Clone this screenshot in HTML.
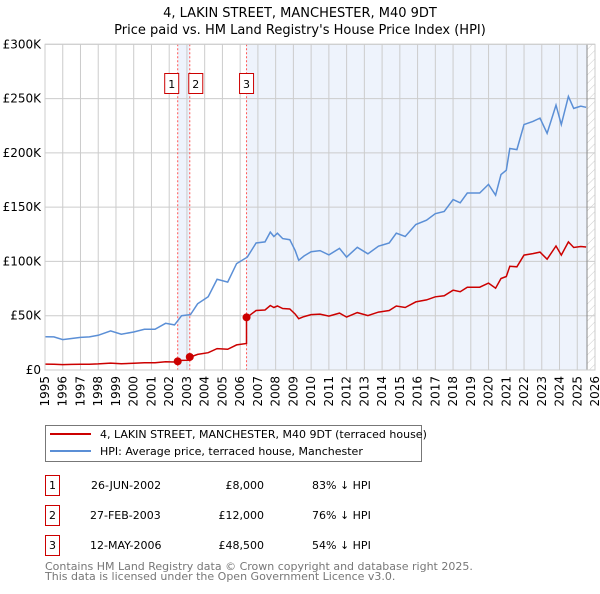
<!DOCTYPE html>
<html><head><meta charset="utf-8"><style>
body{margin:0;background:#fff;font-family:"DejaVu Sans","Liberation Sans",sans-serif;}
svg text{font-family:"DejaVu Sans","Liberation Sans",sans-serif;}
</style></head><body>
<svg id="c" width="600" height="590" xmlns="http://www.w3.org/2000/svg">
<defs><pattern id="hatch" width="6" height="6" patternUnits="userSpaceOnUse" patternTransform="rotate(45)"><line x1="0" y1="0" x2="0" y2="6" stroke="#ccc" stroke-width="1"/></pattern></defs>
<text x="300" y="17" text-anchor="middle" font-size="13">4, LAKIN STREET, MANCHESTER, M40 9DT</text>
<text x="300" y="34" text-anchor="middle" font-size="13">Price paid vs. HM Land Registry's House Price Index (HPI)</text>
<g id="plot"></g>
<g>
<rect x="45.5" y="425.5" width="376" height="36" fill="#fff" stroke="#777"/>
<line x1="50" y1="434" x2="91" y2="434" stroke="#cc0000" stroke-width="2"/>
<text x="100" y="438" font-size="11">4, LAKIN STREET, MANCHESTER, M40 9DT (terraced house)</text>
<line x1="50" y1="451" x2="91" y2="451" stroke="#5b8fd6" stroke-width="2"/>
<text x="100" y="455" font-size="11">HPI: Average price, terraced house, Manchester</text>
</g>
<g font-size="11">
<rect x="45.5" y="475.5" width="14" height="20" fill="none" stroke="#cc0000"/><text x="52.5" y="489" text-anchor="middle">1</text>
<text x="91" y="489">26-JUN-2002</text><text x="264" y="489" text-anchor="end">£8,000</text><text x="312" y="489">83% ↓ HPI</text>
<rect x="45.5" y="505.5" width="14" height="20" fill="none" stroke="#cc0000"/><text x="52.5" y="519" text-anchor="middle">2</text>
<text x="90" y="519">27-FEB-2003</text><text x="264" y="519" text-anchor="end">£12,000</text><text x="312" y="519">76% ↓ HPI</text>
<rect x="45.5" y="535.5" width="14" height="20" fill="none" stroke="#cc0000"/><text x="52.5" y="549" text-anchor="middle">3</text>
<text x="90" y="549">12-MAY-2006</text><text x="264" y="549" text-anchor="end">£48,500</text><text x="312" y="549">54% ↓ HPI</text>
</g>
<text x="45" y="570" font-size="11" fill="#777">Contains HM Land Registry data © Crown copyright and database right 2025.</text>
<text x="45" y="580" font-size="11" fill="#777">This data is licensed under the Open Government Licence v3.0.</text>
</svg>
<script>
const hpiYears=[1995,1995.5,1996,1996.5,1997,1997.5,1998,1998.7,1999.3,2000,2000.6,2001.2,2001.8,2002.3,2002.7,2003.2,2003.6,2004.2,2004.7,2005.3,2005.8,2006.4,2006.9,2007.4,2007.7,2007.9,2008.1,2008.4,2008.8,2009.1,2009.3,2009.6,2010,2010.5,2011,2011.6,2012,2012.6,2013.2,2013.8,2014.4,2014.8,2015.3,2015.9,2016.5,2017,2017.5,2018,2018.4,2018.8,2019.5,2020,2020.4,2020.7,2021,2021.2,2021.6,2022,2022.5,2022.9,2023.3,2023.8,2024.1,2024.5,2024.8,2025.2,2025.5];
const hpiValues=[30.7,30.5,28,29,30,30.5,32,36,33,35,37.5,37.5,43,41.5,50,51,61,67.5,83.5,81,98,104,117,118,127,123,126,121,120,110,101,105,109,110,106,112,104,113,107,114,117,126,123,134,138,144,146,157,154,163,163,171,161,180,184,204,203,226,229,232,218,244,226,252,241,243,242];
const saleYears=[2002.48,2003.16,2006.36];
const salePrices=[8000,12000,48500];
const yTicks=[0,50000,100000,150000,200000,250000,300000];
const yTickLabels=["£0","£50K","£100K","£150K","£200K","£250K","£300K"];
const xTicks=[1995,1996,1997,1998,1999,2000,2001,2002,2003,2004,2005,2006,2007,2008,2009,2010,2011,2012,2013,2014,2015,2016,2017,2018,2019,2020,2021,2022,2023,2024,2025,2026];
const dataEnd=2025.55;

const L=45,R=595,T=44.3,B=370;
const X=y=>L+(y-1995)*(R-L)/31;
const Y=v=>B-v*(B-T)/300000;
const NS="http://www.w3.org/2000/svg";
const g=document.getElementById('plot');
function mk(t,a){const e=document.createElementNS(NS,t);for(const k in a)e.setAttribute(k,a[k]);g.appendChild(e);return e;}
function hpiAt(t){for(let i=0;i<hpiYears.length-1;i++){if(t<=hpiYears[i+1]){const f=(t-hpiYears[i])/(hpiYears[i+1]-hpiYears[i]);return (hpiValues[i]+f*(hpiValues[i+1]-hpiValues[i]))*1000;}}return hpiValues[hpiValues.length-1]*1000;}

let e=mk('rect',{x:X(saleYears[0]),y:T,width:X(saleYears[1])-X(saleYears[0]),height:B-T,fill:'#eef3fc'});


e=mk('rect',{x:X(saleYears[2]),y:T,width:X(dataEnd)-X(saleYears[2]),height:B-T,fill:'#eef3fc'});


e=mk('rect',{x:X(dataEnd),y:T,width:R-X(dataEnd),height:B-T,fill:'url(#hatch)'});


xTicks.forEach(t=>{const l=mk('line',{x1:X(t),x2:X(t),y1:T,y2:B,stroke:'#ccc'});


const tx=mk('text',{x:0,y:0,'font-size':12,'text-anchor':'end',transform:`translate(${X(t)+4},${B+6}) rotate(-90)`});tx.textContent=t;

});
yTicks.forEach((v,i)=>{const l=mk('line',{x1:L,x2:R,y1:Y(v),y2:Y(v),stroke:'#ccc'});


const tx=mk('text',{x:L-4,y:Y(v)+4,'font-size':12,'text-anchor':'end'});tx.textContent=yTickLabels[i];

});
e=mk('line',{x1:X(dataEnd),x2:X(dataEnd),y1:T,y2:B,stroke:'#888'});


saleYears.forEach((s,i)=>{const l=mk('line',{x1:X(s),x2:X(s),y1:T,y2:B,stroke:'#ff5555','stroke-dasharray':'2,2'});


const off=i==0?-6:(i==1?6:0);
const r=mk('rect',{x:X(s)+off-7,y:73.5,width:14,height:20,fill:'#fff',stroke:'#cc0000'});


const tx=mk('text',{x:X(s)+off,y:88,'font-size':11,'text-anchor':'middle'});tx.textContent=i+1;

});
// HPI line
let d=hpiYears.map((y,i)=>(i?'L':'M')+X(y).toFixed(1)+','+Y(hpiValues[i]*1000).toFixed(1)).join('');
e=mk('path',{d,fill:'none',stroke:'#5b8fd6','stroke-width':1.5});


// red line: hpi scaled by latest sale
function factorAt(t){let k=0;for(let i=0;i<saleYears.length;i++)if(t>=saleYears[i])k=i;return salePrices[k]/hpiAt(saleYears[k]);}
const pts=[];const ts=hpiYears.concat(saleYears).sort((a,b)=>a-b);
ts.forEach(t=>{
 const si=saleYears.indexOf(t);
 if(si>0){pts.push([t,hpiAt(t)*salePrices[si-1]/hpiAt(saleYears[si-1])]);}
 pts.push([t,hpiAt(t)*factorAt(t)]);});
d=pts.map((p,i)=>(i?'L':'M')+X(p[0]).toFixed(1)+','+Y(p[1]).toFixed(1)).join('');
e=mk('path',{d,fill:'none',stroke:'#cc0000','stroke-width':1.5});


saleYears.forEach((s,i)=>{const c=mk('circle',{cx:X(s),cy:Y(salePrices[i]),r:4,fill:'#cc0000'});

});
e=mk('rect',{x:L,y:T,width:R-L,height:B-T,fill:'none',stroke:'#ccc'});


</script>
</body></html>
